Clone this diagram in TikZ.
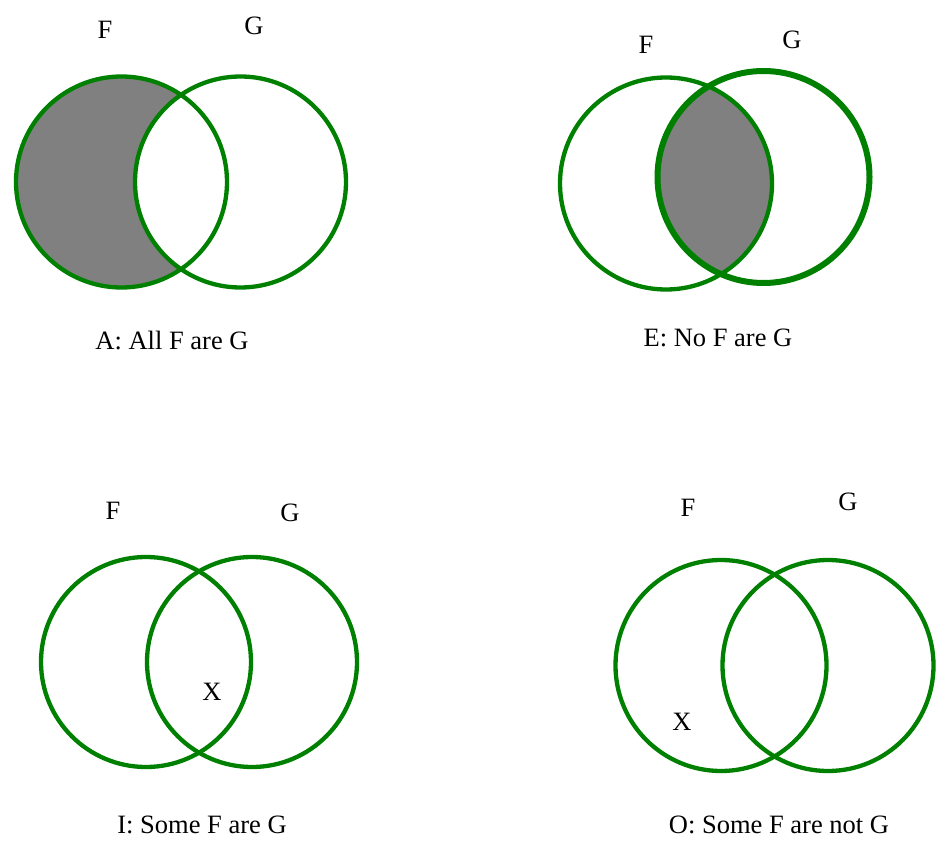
\documentclass[tikz,border=0pt]{standalone}
\usepackage{fontspec}
\setmainfont{Liberation Serif}
\usepackage{tikz}
\usetikzlibrary{positioning}
\colorlet{venngreen}{green!50!black}
\colorlet{venngray}{black!50}

\begin{document}
\begin{tikzpicture}[x=1pt, y=-1pt,
    ring/.style={draw=venngreen, line width=4.3pt},
    lbl/.style={inner sep=0pt, font=\fontsize{26.5}{30}\selectfont}]

                \useasboundingbox (0,0) rectangle (950,858);

                % ===== A: ALL F ARE G (F outside G shaded) =====
                \begin{scope}[even odd rule]
                    \clip (0,0) rectangle (950,858) (240.5,182) circle[radius=105.5];
                    \fill[venngray] (121.5,182) circle[radius=105.5];
                \end{scope}
                \draw[ring] (121.5,182) circle[radius=105.5];
                \draw[ring] (240.5,182) circle[radius=105.5];
                \node[lbl] (aF) at (105,30) {F};
                \node[lbl] (aG) at (254,26) {G};
                \node[lbl] (aCap) at (172,340) {A: All F are G};

                % ===== E: NO F ARE G (overlap shaded) =====
                \begin{scope}
                    \clip (666,183.5) circle[radius=106];
                    \fill[venngray] (763.5,177) circle[radius=106];
                \end{scope}
                \draw[ring] (666,183.5) circle[radius=106];
                \draw[ring, line width=6pt] (763.5,177) circle[radius=106];
                \node[lbl] (eF) at (646,45) {F};
                \node[lbl] (eG) at (792,40) {G};
                \node[lbl] (eCap) at (718,338) {E: No F are G};

                % ===== I: SOME F ARE G (X in overlap) =====
                \draw[ring] (146,662) circle[radius=105];
                \draw[ring] (252,662) circle[radius=105];
                \node[lbl] (iF) at (113,511) {F};
                \node[lbl] (iG) at (290,513) {G};
                \node[lbl] (iX) at (212,692) {X};
                \node[lbl] (iCap) at (202,825) {I: Some F are G};

                % ===== O: SOME F ARE NOT G (X in F only) =====
                \draw[ring] (721,665.5) circle[radius=105.5];
                \draw[ring] (828,665.5) circle[radius=105.5];
                \node[lbl] (oF) at (688,508) {F};
                \node[lbl] (oG) at (848,502) {G};
                \node[lbl] (oX) at (682,722) {X};
                \node[lbl] (oCap) at (779,825) {O: Some F are not G};

\end{tikzpicture}
\end{document}
